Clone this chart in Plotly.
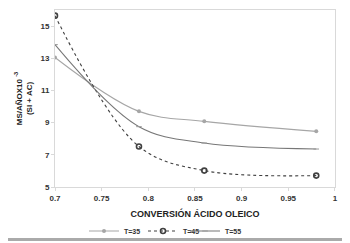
import plotly.graph_objects as go

conversion = [0.70, 0.79, 0.86, 0.98]
t35 = [13.05, 9.70, 9.08, 8.46]
t45 = [15.65, 7.52, 6.02, 5.71]
t55 = [13.85, 8.75, 7.73, 7.36]
series_names = ["T=35", "T=45", "T=55"]
x_ticks = [0.7, 0.75, 0.8, 0.85, 0.9, 0.95, 1]
x_ticktext = ["0.7", "0.75", "0.8", "0.85", "0.9", "0.95", "1"]
y_ticks = [5, 7, 9, 11, 13, 15]

# page body has an 8px margin; figure is placed at (8, 8) in the window
O = 8
W, H = 350 - O, 243 - O
PL, PR, PT, PB = 55, 335, 10, 187   # plot area edges in window pixels
L, R, T, B = PL - O, W - (PR - O), PT - O, H - (PB - O)
pw, ph = W - L - R, H - T - B

def px(x):
    return (x - O - L) / pw

def py(y):
    return (H - B - (y - O)) / ph

font = dict(family="Liberation Sans, Arial, sans-serif", size=8, color="#333333", weight="bold")
lfont = dict(family="Liberation Sans, Arial, sans-serif", size=7, color="#333333", weight="bold")

fig = go.Figure()
fig.add_trace(go.Scatter(
    x=conversion, y=t35, name=series_names[0], mode="lines+markers", legend="legend",
    line=dict(color="#a6a6a6", width=1.1, shape="spline", smoothing=1.0),
    marker=dict(symbol="circle", size=4, color="#a6a6a6")))
fig.add_trace(go.Scatter(
    x=conversion, y=t45, name=series_names[1], mode="lines+markers", legend="legend2",
    line=dict(color="#404040", width=1.1, dash="dot", shape="spline", smoothing=1.0),
    marker=dict(symbol="circle-open", size=5, color="#404040", line=dict(width=1.6))))
fig.add_trace(go.Scatter(
    x=conversion, y=t55, name=series_names[2], mode="lines+markers", legend="legend3",
    line=dict(color="#777777", width=1.1, shape="spline", smoothing=1.0),
    marker=dict(symbol="line-ew", size=4, color="#777777", line=dict(width=1, color="#999999"))))

def leg(xpix):
    return dict(orientation="h", x=px(xpix), xanchor="left", y=py(231), yanchor="middle",
                font=lfont, itemwidth=30, bgcolor="rgba(0,0,0,0)", borderwidth=0)

fig.update_layout(
    width=W, height=H,
    margin=dict(l=L, r=R, t=T, b=B, autoexpand=False),
    paper_bgcolor="white", plot_bgcolor="white",
    font=font,
    showlegend=True,
    legend=leg(84), legend2=leg(143), legend3=leg(185),
    xaxis=dict(range=[0.7, 1.0001], tickvals=x_ticks, ticktext=x_ticktext,
               showgrid=False, zeroline=False, showline=True, linecolor="#d9d9d9",
               mirror=True, ticks="outside", ticklen=3, tickcolor="#d9d9d9",
               tickfont=font, automargin=False,
               title=dict(text="CONVERSIÓN ÁCIDO OLEICO", font=dict(size=9, color="#222222", weight="bold"), standoff=9)),
    yaxis=dict(range=[5, 16], tickvals=y_ticks, showgrid=False, zeroline=False,
               showline=True, linecolor="#d9d9d9", mirror=True,
               ticks="outside", ticklen=3, tickcolor="#d9d9d9", tickfont=font,
               automargin=False,
               title=dict(text="MS/AÑOX10 <sup>-3</sup><br>(SI + AC)", font=dict(size=8, color="#222222", weight="bold"), standoff=6)),
    shapes=[
        dict(type="line", xref="paper", yref="paper", x0=px(4), x1=px(346), y0=py(239.5), y1=py(239.5),
             line=dict(color="#aaaaaa", width=3)),
        dict(type="line", xref="paper", yref="paper", x0=px(344.5), x1=px(344.5), y0=py(241), y1=py(8),
             line=dict(color="#cccccc", width=2.5, dash="dot")),
    ],
)

fig.write_html("out.html")
